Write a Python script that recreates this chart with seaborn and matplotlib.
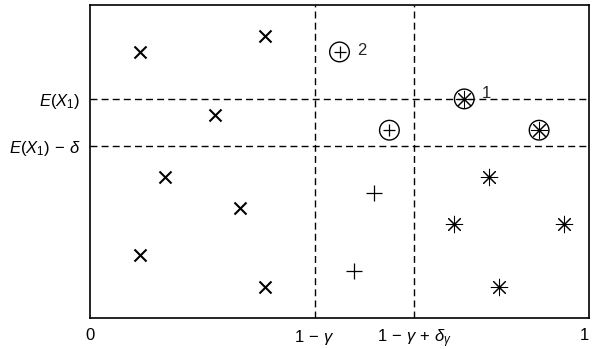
import numpy as np
import matplotlib
matplotlib.use("Agg")
import matplotlib.pyplot as plt
import seaborn as sns

# positions of the separating lines
x_cut1 = 0.45   # 1 - gamma
x_cut2 = 0.65   # 1 - gamma + delta_gamma
y_mean = 0.70   # E(X1)
y_low = 0.55    # E(X1) - delta

# points, per marker group
cross_x = [0.10, 0.35, 0.25, 0.15, 0.30, 0.10, 0.35]
cross_y = [0.85, 0.90, 0.65, 0.45, 0.35, 0.20, 0.10]
plus_x = [0.57, 0.53]
plus_y = [0.40, 0.15]
cplus_x = [0.50, 0.60]
cplus_y = [0.85, 0.60]
star_x = [0.80, 0.73, 0.95, 0.82]
star_y = [0.45, 0.30, 0.30, 0.10]
cstar_x = [0.75, 0.90]
cstar_y = [0.70, 0.60]

xtick_pos = [0, x_cut1, x_cut2, 1]
xtick_labels = ["0", r"$1\,-\,\gamma$", r"$1\,-\,\gamma\,+\,\delta_\gamma$", "1"]
ytick_pos = [y_low, y_mean]
ytick_labels = [r"$E(X_1)\,-\,\delta$", r"$E(X_1)$"]

sns.set_style("white")
plt.rcParams["font.family"] = ["Liberation Sans", "DejaVu Sans"]
plt.rcParams["mathtext.fontset"] = "custom"
plt.rcParams["mathtext.rm"] = "Liberation Sans"
plt.rcParams["mathtext.it"] = "Liberation Sans:italic"

fig = plt.figure(figsize=(5.92, 3.49), dpi=100)
ax = fig.add_axes([90 / 592, 1 - 318 / 349, 499 / 592, 313 / 349])

# dashed guide lines
for xv in (x_cut1, x_cut2):
    ax.axvline(xv, color="black", lw=1, dashes=(5, 3), zorder=1)
for yv in (y_mean, y_low):
    ax.axhline(yv, color="black", lw=1, dashes=(5, 3), zorder=1)

sns.scatterplot(x=cross_x, y=cross_y, marker="x", s=75, color="black",
                linewidth=1.5, ax=ax, zorder=3)
sns.scatterplot(x=plus_x, y=plus_y, marker="+", s=130, color="black",
                linewidth=0.9, ax=ax, zorder=3)
sns.scatterplot(x=cplus_x, y=cplus_y, marker="+", s=85, color="black",
                linewidth=0.9, ax=ax, zorder=3)
sns.scatterplot(x=cplus_x + cstar_x, y=cplus_y + cstar_y, marker="o", s=200,
                facecolor="none", edgecolor="black", linewidth=1, ax=ax, zorder=3)
sns.scatterplot(x=star_x + cstar_x, y=star_y + cstar_y, marker=(8, 2, 0), s=140,
                color="black", linewidth=0.75, ax=ax, zorder=3)

ax.annotate("2", (cplus_x[0], cplus_y[0]), xytext=(16, 1), textcoords="offset points",
            fontsize=12, va="center", ha="center")
ax.annotate("1", (cstar_x[0], cstar_y[0]), xytext=(16, 4), textcoords="offset points",
            fontsize=12, va="center", ha="center")

ax.set_xlim(0, 1)
ax.set_ylim(0, 1)
ax.set_xticks(xtick_pos)
ax.set_xticklabels(xtick_labels)
ax.set_yticks(ytick_pos)
ax.set_yticklabels(ytick_labels)
ax.tick_params(direction="in", length=4, width=1, labelsize=12, colors="black", pad=7)
# keep the "1" at the right edge inside the figure
ax.get_xticklabels()[-1].set_horizontalalignment("right")
for sp in ax.spines.values():
    sp.set_color("black")
    sp.set_linewidth(1.2)

fig.savefig("out.png", dpi=100)
